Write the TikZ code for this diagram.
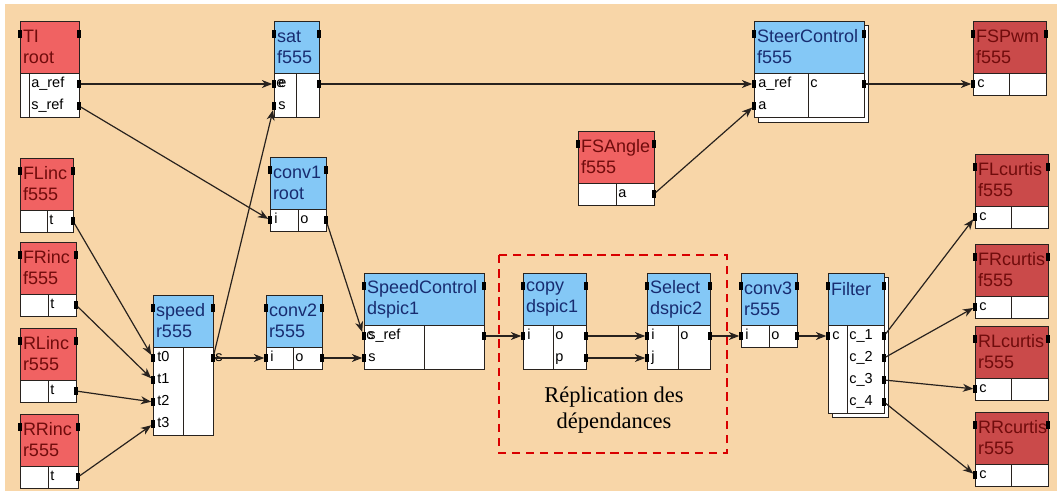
\documentclass[tikz,border=0pt]{standalone}
\usepackage{fontspec}
\setmainfont{Liberation Serif}
\setsansfont{Liberation Sans}
\usepackage{tikz}
\usetikzlibrary{positioning,arrows.meta,calc}

\definecolor{peach}{RGB}{248,214,168}
\definecolor{hblue}{RGB}{132,200,246}
\definecolor{hred}{RGB}{240,98,98}
\definecolor{hdark}{RGB}{202,74,74}
\definecolor{tblue}{RGB}{24,44,112}
\definecolor{tred}{RGB}{112,12,12}
\definecolor{edge}{RGB}{40,34,30}

\newcommand{\px}{0.025cm}

% one block: name, x, y, width, column split, port area height, header style, title
\newcommand{\blk}[8]{%
  \pgfmathsetlengthmacro{\hw}{(#4-6)*\px}
  \node[#7, minimum width=#4*\px, text width=\hw] (#1) at (#2,#3) {#8};
  \node[body, minimum width=#4*\px, minimum height=#6*\px] (#1-b) at (#1.south west) {};
  \coordinate (#1-s) at ($(#1-b.north west)+(#5,0)$);
  \draw[frame] (#1-s) -- (#1-s |- #1-b.south);
  \node[tab] (#1-hl) at ($(#1.north west)+(0,13)$) {};
  \node[tab] (#1-hr) at ($(#1.north east)+(0,13)$) {};
}
% input port: block, port, row, label
\newcommand{\inp}[4]{%
  \node[tab] (#1-#2) at ($(#1-b.north west)+(0,{11+22*(#3-1)})$) {};
  \node[plab] (#1-#2-t) at ($(#1-#2.center)+(2,0)$) {#4};
}
% output port: block, port, row, label
\newcommand{\outp}[4]{%
  \node[tab] (#1-#2) at ($(#1-b.north east)+(0,{11+22*(#3-1)})$) {};
  \node[plab] (#1-#2-t) at (#1-s |- #1-#2) {#4};
}

\begin{document}
\begin{tikzpicture}[
    x=0.025cm, y=-0.025cm,
    frame/.style={draw=edge, line width=0.6pt},
    head/.style={frame, anchor=north west, outer sep=0pt, minimum height=52*\px,
      inner xsep=3*\px, inner ysep=2pt, align=left,
      font=\sffamily\fontsize{12.8}{14.9}\selectfont},
    hb/.style={head, fill=hblue, text=tblue},
    hr/.style={head, fill=hred, text=tred},
    hd/.style={head, fill=hdark, text=tred},
    body/.style={frame, fill=white, anchor=north west, outer sep=0pt, inner sep=0pt},
    tab/.style={fill=black, draw=none, inner sep=0pt, outer sep=0pt,
      minimum width=3.5*\px, minimum height=8*\px},
    plab/.style={anchor=west, inner xsep=2*\px, inner ysep=0pt, text height=1.6ex, text depth=.4ex,
      font=\sffamily\fontsize{10.3}{12}\selectfont},
    arr/.style={-{Stealth[length=2.6mm, width=2mm, inset=0.8mm]}, draw=edge, line width=0.85pt},
    grp/.style={draw=red!85!black, dashed, dash pattern=on 6pt off 4pt, line width=0.8pt},
    caption/.style={align=center, font=\fontsize{16}{18.4}\selectfont},
]

% Background
\useasboundingbox (0,0) rectangle (1057,495);
\fill[peach] (5,4) rectangle (1057,491);

% Stacked blocks (shadows)
\draw[frame, fill=white] (758,25) rectangle (868,122);
\draw[frame, fill=white] (832,277) rectangle (888,417);

% Top row
\blk{TI}{20}{21}{59}{9}{44}{hr}{TI\\root}
\outp{TI}{aref}{1}{a\_ref}
\outp{TI}{sref}{2}{s\_ref}

\blk{sat}{274}{21}{45}{22}{44}{hb}{sat\\f555}
\inp{sat}{ei}{1}{e}
\inp{sat}{s}{2}{s}
\outp{sat}{eo}{1}{e}

\blk{steer}{754}{21}{110}{54}{44}{hb}{SteerControl\\f555}
\inp{steer}{aref}{1}{a\_ref}
\inp{steer}{a}{2}{a}
\outp{steer}{c}{1}{c}

\blk{fspwm}{973}{21}{73}{36}{22}{hd}{FSPwm\\f555}
\inp{fspwm}{c}{1}{c}

\blk{fsangle}{578}{131}{76}{38}{22}{hr}{FSAngle\\f555}
\outp{fsangle}{a}{1}{a}

% Sensors
\blk{flinc}{20}{158}{53}{27}{22}{hr}{FLinc\\f555}
\outp{flinc}{t}{1}{t}
\blk{frinc}{20}{242}{56}{28}{22}{hr}{FRinc\\f555}
\outp{frinc}{t}{1}{t}
\blk{rlinc}{20}{328}{56}{28}{22}{hr}{RLinc\\r555}
\outp{rlinc}{t}{1}{t}
\blk{rrinc}{20}{414}{58}{28}{22}{hr}{RRinc\\r555}
\outp{rrinc}{t}{1}{t}

% Speed chain
\blk{conv1}{270}{157}{56}{28}{22}{hb}{conv1\\root}
\inp{conv1}{i}{1}{i}
\outp{conv1}{o}{1}{o}

\blk{speed}{153}{295}{60}{30}{88}{hb}{speed\\r555}
\inp{speed}{t0}{1}{t0}
\inp{speed}{t1}{2}{t1}
\inp{speed}{t2}{3}{t2}
\inp{speed}{t3}{4}{t3}
\outp{speed}{s}{1}{s}

\blk{conv2}{266}{295}{56}{27}{22}{hb}{conv2\\r555}
\inp{conv2}{i}{1}{i}
\outp{conv2}{o}{1}{o}

\blk{spctl}{364}{273}{120}{60}{44}{hb}{SpeedControl\\dspic1}
\inp{spctl}{sref}{1}{s\_ref}
\inp{spctl}{s}{2}{s}
\outp{spctl}{c}{1}{c}

\blk{copy}{523}{273}{63}{30}{44}{hb}{copy\\dspic1}
\inp{copy}{i}{1}{i}
\outp{copy}{o}{1}{o}
\outp{copy}{p}{2}{p}

\blk{select}{647}{273}{63}{31}{44}{hb}{Select\\dspic2}
\inp{select}{i}{1}{i}
\inp{select}{j}{2}{j}
\outp{select}{o}{1}{o}

\blk{conv3}{741}{273}{56}{28}{22}{hb}{conv3\\r555}
\inp{conv3}{i}{1}{i}
\outp{conv3}{o}{1}{o}

\blk{filter}{828}{273}{56}{19}{88}{hb}{Filter\\\mbox{}}
\inp{filter}{c}{1}{c}
\outp{filter}{c1}{1}{c\_1}
\outp{filter}{c2}{2}{c\_2}
\outp{filter}{c3}{3}{c\_3}
\outp{filter}{c4}{4}{c\_4}

% Actuators
\blk{flcurtis}{975}{154}{73}{36}{22}{hd}{FLcurtis\\f555}
\inp{flcurtis}{c}{1}{c}
\blk{frcurtis}{975}{244}{73}{36}{22}{hd}{FRcurtis\\f555}
\inp{frcurtis}{c}{1}{c}
\blk{rlcurtis}{975}{326}{73}{36}{22}{hd}{RLcurtis\\r555}
\inp{rlcurtis}{c}{1}{c}
\blk{rrcurtis}{975}{412}{73}{36}{22}{hd}{RRcurtis\\r555}
\inp{rrcurtis}{c}{1}{c}

% Replicated part
\draw[grp] (499,255) rectangle (727,453);
\node[caption] (repl) at (614,410) {Réplication des\\dépendances};

% Arrows
\draw[arr] (TI-aref) -- (sat-ei);
\draw[arr] (sat-eo) -- (steer-aref);
\draw[arr] (steer-c) -- (fspwm-c);
\draw[arr] (fsangle-a) -- (steer-a);
\draw[arr] (TI-sref) -- (conv1-i);
\draw[arr] (speed-s) -- (sat-s);
\draw[arr] (speed-s) -- (conv2-i);
\draw[arr] (conv1-o) -- (spctl-sref.north west);
\draw[arr] (conv2-o) -- (spctl-s);
\draw[arr] (flinc-t) -- (speed-t0);
\draw[arr] (frinc-t) -- (speed-t1);
\draw[arr] (rlinc-t) -- (speed-t2);
\draw[arr] (rrinc-t) -- (speed-t3);
\draw[arr] (spctl-c) -- (copy-i);
\draw[arr] (copy-o) -- (select-i);
\draw[arr] (copy-p) -- (select-j);
\draw[arr] (select-o) -- (conv3-i);
\draw[arr] (conv3-o) -- (filter-c);
\draw[arr] (filter-c1) -- (flcurtis-c);
\draw[arr] (filter-c2) -- (frcurtis-c);
\draw[arr] (filter-c3) -- (rlcurtis-c);
\draw[arr] (filter-c4) -- (rrcurtis-c);

\end{tikzpicture}
\end{document}
